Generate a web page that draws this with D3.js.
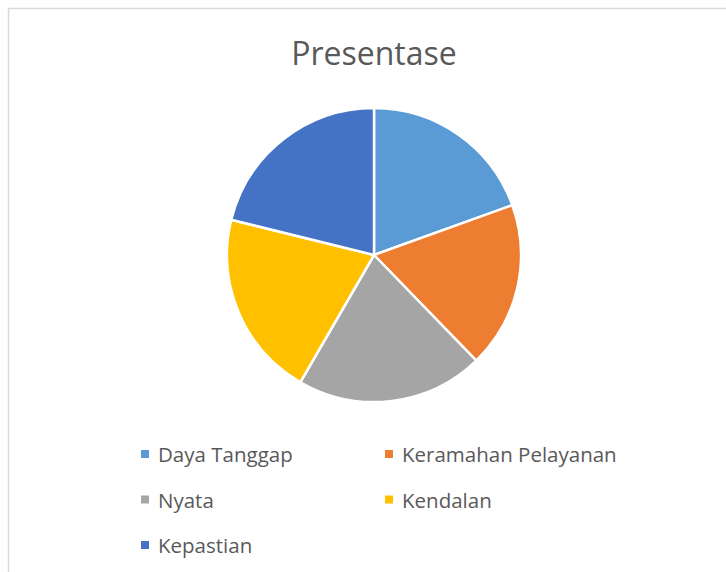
<!DOCTYPE html>
<html>
<head>
<meta charset="utf-8">
<script src="https://cdn.jsdelivr.net/npm/d3@7"></script>
<style>
  html, body { margin: 0; padding: 0; background: #fff; }
  svg { display: block; }
</style>
</head>
<body>
<div class="vis-pie"></div>
<script>
// data (percent of whole)
const categories = ["Daya Tanggap", "Keramahan Pelayanan", "Nyata", "Kendalan", "Kepastian"];
const values = [19.5, 18.25, 20.6, 20.5, 21.15];
const colors = ["#5B9BD5", "#ED7D31", "#A5A5A5", "#FFC000", "#4472C4"];
const title = "Presentase";

const width = 726, height = 572;
const cx = 374, cy = 255, radius = 147;
const font = "'Open Sans', 'Noto Sans', sans-serif";

const svg = d3.select(".vis-pie")
    .append("svg")
    .attr("width", width)
    .attr("height", height);

// chart frame (runs off the right/bottom edge in the reference)
svg.append("rect")
    .attr("x", 8.5)
    .attr("y", 8.5)
    .attr("width", width + 20)
    .attr("height", height + 20)
    .attr("fill", "#fff")
    .attr("stroke", "#d9d9d9")
    .attr("stroke-width", 1.5);

svg.append("text")
    .attr("x", cx)
    .attr("y", 65)
    .attr("text-anchor", "middle")
    .attr("fill", "#595959")
    .style("font-family", font)
    .style("font-size", "32px")
    .text(title);

const color = d3.scaleOrdinal().domain(categories).range(colors);

const pie = d3.pie().sort(null).value(d => d.value);
const arc = d3.arc().innerRadius(0).outerRadius(radius);

const rows = categories.map((c, i) => ({name: c, value: values[i]}));

svg.append("g")
    .attr("transform", `translate(${cx},${cy})`)
    .selectAll("path")
    .data(pie(rows))
    .enter()
    .append("path")
    .attr("d", arc)
    .attr("fill", d => color(d.data.name))
    .attr("stroke", "#fff")
    .attr("stroke-width", 2.5)
    .attr("stroke-linejoin", "round");

// legend, two columns
const legend = svg.append("g");
const colX = [141, 385], rowY = [462, 507.5, 553];

const items = legend.selectAll(".legend_item")
    .data(categories)
    .enter()
    .append("g")
    .attr("class", "legend_item")
    .attr("transform", (d, i) => `translate(${colX[i % 2]}, ${rowY[Math.floor(i / 2)]})`);

items.append("rect")
    .attr("x", 0)
    .attr("y", -12)
    .attr("width", 8)
    .attr("height", 8)
    .attr("fill", d => color(d));

items.append("text")
    .attr("x", 17)
    .attr("fill", "#595959")
    .style("font-family", font)
    .style("font-size", "20.5px")
    .text(d => d);
</script>
</body>
</html>
